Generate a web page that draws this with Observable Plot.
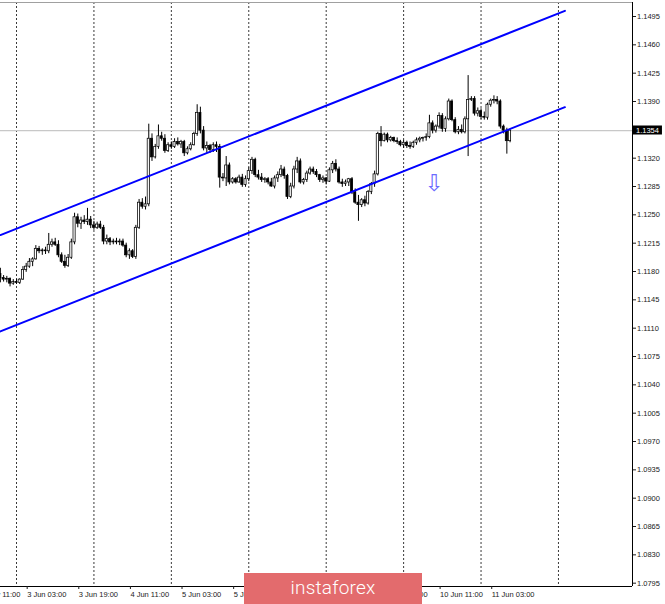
<!DOCTYPE html>
<html><head><meta charset="utf-8">
<script src="https://cdn.jsdelivr.net/npm/d3@7"></script>
<script src="https://cdn.jsdelivr.net/npm/@observablehq/plot@0.6"></script>
<style>
html,body{margin:0;padding:0;background:#fff;overflow:hidden;}
#wrap{position:relative;width:665px;height:604px;overflow:hidden;background:#fff;}
#chart svg{display:block;margin-left:-40px;max-width:none !important;width:705px !important;height:604px !important;}
#wm{position:absolute;left:244px;top:573px;width:178px;height:31px;background:#e36b6d;color:#fff;
 font-family:Roboto,"Open Sans",sans-serif;font-weight:300;font-size:19px;line-height:29px;text-align:center;letter-spacing:0.2px;}
</style></head>
<body>
<div id="wrap"><div id="chart"></div><div id="wm">instaforex</div></div>
<script>
// EURUSD H1 — bar 0 = 3 Jun 00:00, first bar shown = 31 May 19:00
const firstBar = -5;
const open = [
 1.1177,1.1172,1.1170,1.1171,1.1165,
 1.1167,1.1166,1.1170,1.1182,1.1186,1.1192,1.1195,1.1208,1.1205,1.1206,1.1205,1.1213,1.1216,1.1213,1.1200,1.1192,1.1187,1.1197,1.1216,1.1247,1.1239,1.1243,1.1241,1.1244,
 1.1237,1.1234,1.1238,1.1234,1.1217,1.1220,1.1216,1.1217,1.1216,1.1217,1.1212,1.1200,1.1205,1.1198,1.1234,1.1265,1.1260,1.1263,1.1344,1.1321,1.1334,1.1347,1.1344,1.1329,
 1.1336,1.1334,1.1340,1.1337,1.1340,1.1326,1.1331,1.1336,1.1350,1.1376,1.1354,1.1332,1.1335,1.1330,1.1336,1.1334,1.1296,1.1295,1.1311,1.1290,1.1294,1.1290,1.1296,1.1287,
 1.1294,1.1304,1.1318,1.1299,1.1296,1.1293,1.1294,1.1290,1.1285,1.1295,1.1299,1.1306,1.1298,1.1272,1.1285,1.1306,1.1316,1.1290,1.1293,1.1301,1.1306,1.1303,1.1299,1.1293,
 1.1295,1.1291,1.1305,1.1313,1.1306,1.1290,1.1288,1.1290,1.1294,1.1278,1.1265,1.1262,1.1268,1.1264,1.1278,1.1288,1.1300,1.1350,1.1341,1.1349,1.1342,1.1345,1.1341,1.1340,
 1.1336,1.1339,1.1335,1.1334,1.1339,1.1342,1.1344,1.1345,1.1346,1.1363,1.1354,1.1359,1.1372,1.1356,1.1368,1.1390,1.1367,1.1352,1.1355,1.1352,1.1368,1.1392,1.1393,1.1375,
 1.1378,1.1371,1.1370,1.1386,1.1391,1.1392,1.1390,1.1359,1.1354,1.1341
];
const high = [
 1.1184,1.1175,1.1174,1.1172,1.1170,
 1.1170,1.1171,1.1186,1.1190,1.1196,1.1197,1.1212,1.1211,1.1208,1.1210,1.1227,1.1220,1.1221,1.1218,1.1203,1.1200,1.1201,1.1220,1.1252,1.1251,1.1247,1.1249,1.1258,1.1248,
 1.1242,1.1241,1.1242,1.1237,1.1225,1.1222,1.1220,1.1221,1.1220,1.1220,1.1215,1.1208,1.1207,1.1237,1.1269,1.1270,1.1272,1.1362,1.1350,1.1337,1.1361,1.1352,1.1349,1.1339,
 1.1340,1.1344,1.1345,1.1342,1.1342,1.1334,1.1339,1.1352,1.1386,1.1383,1.1359,1.1340,1.1337,1.1339,1.1340,1.1337,1.1301,1.1322,1.1314,1.1296,1.1296,1.1299,1.1300,1.1298,
 1.1308,1.1321,1.1320,1.1305,1.1301,1.1296,1.1296,1.1295,1.1298,1.1303,1.1311,1.1309,1.1300,1.1289,1.1310,1.1321,1.1319,1.1295,1.1304,1.1309,1.1309,1.1306,1.1300,1.1298,
 1.1296,1.1308,1.1316,1.1318,1.1309,1.1294,1.1293,1.1295,1.1296,1.1282,1.1274,1.1270,1.1273,1.1280,1.1290,1.1304,1.1352,1.1359,1.1351,1.1351,1.1347,1.1346,1.1345,1.1342,
 1.1342,1.1341,1.1340,1.1341,1.1345,1.1346,1.1346,1.1350,1.1373,1.1366,1.1361,1.1376,1.1375,1.1371,1.1393,1.1392,1.1370,1.1359,1.1361,1.1371,1.1422,1.1396,1.1396,1.1382,
 1.1381,1.1377,1.1388,1.1393,1.1397,1.1396,1.1392,1.1361,1.1357,1.1355
];
const low = [
 1.1166,1.1167,1.1166,1.1161,1.1163,
 1.1164,1.1164,1.1169,1.1179,1.1184,1.1186,1.1194,1.1202,1.1200,1.1201,1.1202,1.1210,1.1211,1.1197,1.1190,1.1184,1.1185,1.1195,1.1213,1.1234,1.1232,1.1238,1.1237,1.1233,
 1.1231,1.1232,1.1232,1.1213,1.1213,1.1212,1.1213,1.1213,1.1212,1.1210,1.1197,1.1195,1.1196,1.1195,1.1232,1.1257,1.1256,1.1260,1.1316,1.1319,1.1331,1.1341,1.1326,1.1327,
 1.1331,1.1332,1.1335,1.1332,1.1322,1.1324,1.1329,1.1335,1.1347,1.1350,1.1329,1.1326,1.1326,1.1327,1.1327,1.1283,1.1291,1.1285,1.1287,1.1288,1.1288,1.1289,1.1284,1.1284,
 1.1291,1.1300,1.1296,1.1293,1.1290,1.1289,1.1287,1.1284,1.1282,1.1290,1.1296,1.1294,1.1269,1.1270,1.1282,1.1301,1.1288,1.1287,1.1290,1.1299,1.1300,1.1296,1.1290,1.1289,
 1.1287,1.1290,1.1301,1.1303,1.1288,1.1284,1.1285,1.1285,1.1275,1.1263,1.1242,1.1259,1.1260,1.1262,1.1275,1.1284,1.1298,1.1334,1.1340,1.1339,1.1340,1.1339,1.1337,1.1334,
 1.1332,1.1332,1.1331,1.1332,1.1336,1.1339,1.1340,1.1341,1.1344,1.1350,1.1351,1.1356,1.1352,1.1352,1.1366,1.1365,1.1350,1.1349,1.1350,1.1350,1.1322,1.1390,1.1372,1.1371,
 1.1368,1.1367,1.1367,1.1383,1.1387,1.1386,1.1356,1.1350,1.1325,1.1339
];
const close = [
 1.1172,1.1170,1.1171,1.1165,1.1167,
 1.1166,1.1170,1.1182,1.1186,1.1192,1.1195,1.1208,1.1205,1.1206,1.1205,1.1213,1.1216,1.1213,1.1200,1.1192,1.1187,1.1197,1.1216,1.1247,1.1239,1.1243,1.1241,1.1244,1.1237,
 1.1234,1.1238,1.1234,1.1217,1.1220,1.1216,1.1217,1.1216,1.1217,1.1212,1.1200,1.1205,1.1198,1.1234,1.1265,1.1260,1.1263,1.1344,1.1321,1.1334,1.1347,1.1344,1.1329,1.1336,
 1.1334,1.1340,1.1337,1.1340,1.1326,1.1331,1.1336,1.1350,1.1376,1.1354,1.1332,1.1335,1.1330,1.1336,1.1334,1.1296,1.1295,1.1311,1.1290,1.1294,1.1290,1.1296,1.1287,1.1294,
 1.1304,1.1318,1.1299,1.1296,1.1293,1.1294,1.1290,1.1285,1.1295,1.1299,1.1306,1.1298,1.1272,1.1285,1.1306,1.1316,1.1290,1.1293,1.1301,1.1306,1.1303,1.1299,1.1293,1.1295,
 1.1291,1.1305,1.1313,1.1306,1.1290,1.1288,1.1290,1.1294,1.1278,1.1265,1.1262,1.1268,1.1264,1.1278,1.1288,1.1300,1.1350,1.1341,1.1349,1.1342,1.1345,1.1341,1.1340,1.1336,
 1.1339,1.1335,1.1334,1.1339,1.1342,1.1344,1.1345,1.1346,1.1363,1.1354,1.1359,1.1372,1.1356,1.1368,1.1390,1.1367,1.1352,1.1355,1.1352,1.1368,1.1392,1.1393,1.1375,1.1378,
 1.1371,1.1370,1.1386,1.1391,1.1392,1.1390,1.1359,1.1354,1.1341,1.1354
];
// day separators (bar index of 00:00 each trading day)
const dayStarts = [0, 24, 48, 72, 96, 120, 144, 168];
// time-axis labels
const timeTickBars = [-13, 3, 19, 35, 51, 67, 83, 99, 115, 131, 147];
const timeTickLabels = ["31 May 11:00","3 Jun 03:00","3 Jun 19:00","4 Jun 11:00","5 Jun 03:00","5 Jun 19:00","6 Jun 11:00","7 Jun 03:00","7 Jun 19:00","10 Jun 11:00","11 Jun 03:00"];
// price-axis labels
const priceTicks = [1.0795,1.0830,1.0865,1.0900,1.0935,1.0970,1.1005,1.1040,1.1075,1.1110,1.1145,1.1180,1.1215,1.1250,1.1285,1.1320,1.1390,1.1425,1.1460,1.1495];
const bid = 1.1354;
// equidistant channel (bar, price)
const channelLine = ["upper","upper","lower","lower"];
const channelBar = [-5, 170, -5, 170];
const channelPrice = [1.1225, 1.1502, 1.1106, 1.1383];
// arrow object
const arrowBar = [129.5];
const arrowPrice = [1.1289];

const candles = open.map((o, k) => ({i: firstBar + k, open: o, high: high[k], low: low[k], close: close[k]}));
const channel = channelLine.map((l, k) => ({line: l, i: channelBar[k], p: channelPrice[k]}));
const arrows = arrowBar.map((b, k) => ({i: b, p: arrowPrice[k]}));
const labelOf = new Map(timeTickBars.map((b, k) => [b, timeTickLabels[k]]));

const xDom = [-17.36, 190.95];
const yDom = [1.07909, 1.15123];
const FONT = "'Liberation Sans', Arial, sans-serif";

const chart = Plot.plot({
  width: 705, height: 604,
  marginLeft: 0, marginRight: 33, marginTop: 2, marginBottom: 18,
  x: {domain: xDom, label: null},
  y: {domain: yDom, label: null},
  color: {type: "identity"},
  style: {fontFamily: FONT, fontSize: "7.5px", color: "#1a1a1a", background: "white", overflow: "visible"},
  marks: [
    Plot.ruleX(dayStarts, {x: d => d, stroke: "#3a3a3a", strokeDasharray: "2,2", strokeWidth: 1}),
    Plot.ruleY([bid], {y: d => d, stroke: "#c8c8c8", strokeWidth: 1.3}),
    Plot.ruleX(candles, {x: "i", y1: "low", y2: "high", stroke: "black", strokeWidth: 1}),
    Plot.rect(candles, {x1: d => d.i - 0.33, x2: d => d.i + 0.33, y1: "open", y2: "close",
      fill: d => d.close >= d.open ? "white" : "black", stroke: "black", strokeWidth: 0.75}),
    Plot.line(channel, {x: "i", y: "p", z: "line", stroke: "#0000ff", strokeWidth: 2}),
    Plot.text(arrows, {x: "i", y: "p", text: () => "\u21E9", fill: "#6b6bff", fontSize: 23, fontFamily: "DejaVu Sans"}),
    Plot.ruleY([yDom[1]], {stroke: "#a0a0a0", strokeWidth: 1}),
    Plot.ruleY([yDom[0]], {stroke: "black", strokeWidth: 1}),
    Plot.ruleX([xDom[1]], {stroke: "black", strokeWidth: 1}),
    Plot.axisY({anchor: "right", label: null, ticks: priceTicks, tickSize: 3, tickPadding: 1.5, tickFormat: d => d.toFixed(4), fontSize: 7.5}),
    Plot.axisX({anchor: "bottom", label: null, ticks: timeTickBars, tickSize: 3, tickPadding: 2, tickFormat: d => labelOf.get(d), textAnchor: "start", dx: 1, fontSize: 7.5})
  ]
});
document.getElementById("chart").appendChild(chart);
// bid price label: black box on the price axis, placed through Plot's own scales
const yb = Math.round(chart.scale("y").apply(bid)), xr = Math.round(chart.scale("x").apply(xDom[1]));
const g = d3.select(chart).append("g").attr("class", "bid-label").attr("text-anchor", "start");
const rect = g.append("rect").attr("fill", "#000");
const txt = g.append("text").attr("x", xr + 4).attr("y", yb).attr("dy", "0.35em")
  .attr("text-anchor", "start").style("fill", "#ffffff").attr("font-size", 7.5)
  .attr("font-family", FONT).text(bid.toFixed(4));
const tw = txt.node().getComputedTextLength();
rect.attr("x", xr + 1).attr("y", yb - 4.5).attr("width", tw + 6).attr("height", 9);
</script>
</body></html>
